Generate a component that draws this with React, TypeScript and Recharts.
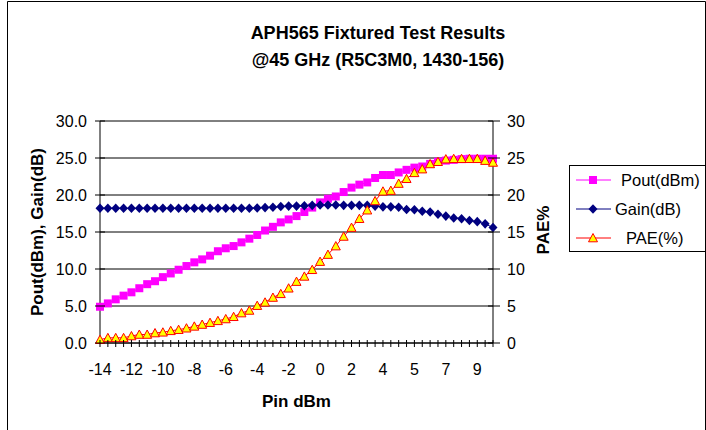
import React from 'react';
import { LineChart, Line, XAxis, YAxis, CartesianGrid } from 'recharts';

// Pin (dBm) categories — only every 4th is labelled on the axis
const pinDbm = [
  -14, -13.5, -13, -12.5, -12, -11.5, -11, -10.5, -10, -9.5,
  -9, -8.5, -8, -7.5, -7, -6.5, -6, -5.5, -5, -4.5,
  -4, -3.5, -3, -2.5, -2, -1.5, -1, -0.5, 0, 0.45,
  0.9, 1.35, 1.8, 2.25, 2.7, 3.15, 3.6, 4.05, 4.5, 4.95,
  5.4, 5.85, 6.3, 6.75, 7.2, 7.65, 8.1, 8.55, 9.0, 9.45, 9.9,
];

const poutDbm = [
  4.9, 5.35, 5.9, 6.4, 6.85, 7.4, 7.95, 8.35, 8.9, 9.4,
  9.9, 10.4, 10.9, 11.3, 11.8, 12.4, 12.8, 13.1, 13.6, 14.1,
  14.6, 15.2, 15.7, 16.3, 16.7, 17.15, 17.7, 18.3, 19.0, 19.5,
  19.8, 20.4, 21.0, 21.4, 21.7, 22.3, 22.7, 22.7, 23.05, 23.4,
  23.7, 23.85, 24.2, 24.5, 24.65, 24.75, 24.85, 24.9, 24.9, 24.9, 24.9,
];

const gainDb = [
  18.2, 18.2, 18.2, 18.2, 18.2, 18.2, 18.2, 18.2, 18.2, 18.2,
  18.2, 18.2, 18.2, 18.2, 18.2, 18.2, 18.2, 18.2, 18.2, 18.2,
  18.25, 18.3, 18.35, 18.45, 18.5, 18.5, 18.55, 18.6, 18.65, 18.65,
  18.65, 18.6, 18.6, 18.6, 18.6, 18.5, 18.4, 18.4, 18.35, 18.05,
  18.0, 17.8, 17.7, 17.4, 17.15, 16.9, 16.8, 16.55, 16.4, 16.1, 15.6,
];

const paePct = [
  0.45, 0.7, 0.7, 0.7, 0.95, 1.15, 1.15, 1.35, 1.45, 1.65,
  1.8, 2.0, 2.25, 2.5, 2.75, 3.0, 3.25, 3.55, 4.05, 4.4,
  5.05, 5.5, 6.15, 6.65, 7.4, 8.3, 9.0, 9.9, 11.0, 11.95,
  13.1, 14.4, 15.6, 16.8, 17.95, 19.2, 20.5, 20.6, 21.55, 22.2,
  23.0, 23.5, 24.2, 24.5, 24.85, 24.9, 24.9, 24.9, 24.9, 24.65, 24.4,
];

const leftTicks = [0, 5, 10, 15, 20, 25, 30];
const rightTicks = [0, 5, 10, 15, 20, 25, 30];
const xLabelEvery = 4;

const titleLines = ['APH565 Fixtured Test Results', '@45 GHz (R5C3M0, 1430-156)'];
const seriesNames = ['Pout(dBm)', 'Gain(dB)', 'PAE(%)'];

const data = pinDbm.map((pin, i) => ({
  pin,
  pout: poutDbm[i],
  gain: gainDb[i],
  pae: paePct[i],
}));

const FONT = '"Liberation Sans", Arial, Helvetica, sans-serif';
const POUT_COLOR = '#FF00FF';
const GAIN_COLOR = '#000080';
const PAE_COLOR = '#FF0000';
const PAE_FILL = '#FFFF00';

const squareShape = (cx: number, cy: number, k?: string) => (
  <rect key={k} x={cx - 4} y={cy - 4} width={8} height={8} fill={POUT_COLOR} />
);
const diamondShape = (cx: number, cy: number, k?: string) => (
  <polygon
    key={k}
    points={`${cx},${cy - 4.8} ${cx + 4.5},${cy} ${cx},${cy + 4.8} ${cx - 4.5},${cy}`}
    fill={GAIN_COLOR}
  />
);
const triangleShape = (cx: number, cy: number, k?: string) => (
  <polygon
    key={k}
    points={`${cx},${cy - 4.5} ${cx + 4.5},${cy + 3.8} ${cx - 4.5},${cy + 3.8}`}
    fill={PAE_FILL}
    stroke={PAE_COLOR}
    strokeWidth={1}
  />
);

const SquareDot = (p: any) =>
  p.cx == null || p.cy == null ? <g key={`sq-${p.index}`} /> : squareShape(p.cx, p.cy, `sq-${p.index}`);
const DiamondDot = (p: any) =>
  p.cx == null || p.cy == null ? <g key={`dm-${p.index}`} /> : diamondShape(p.cx, p.cy, `dm-${p.index}`);
const TriangleDot = (p: any) =>
  p.cx == null || p.cy == null ? <g key={`tr-${p.index}`} /> : triangleShape(p.cx, p.cy, `tr-${p.index}`);

const XTick = (props: any) => {
  const { x, y, payload, index } = props;
  const i = typeof index === 'number' ? index : payload.index;
  const show = i % xLabelEvery === 0;
  return (
    <g>
      <line x1={x} x2={x} y1={y - 3} y2={y + 4} stroke="#000" strokeWidth={1} />
      {show && (
        <text x={x} y={y + 32} textAnchor="middle" fontSize={16} fill="#000" fontFamily={FONT}>
          {Math.round(Number(payload.value))}
        </text>
      )}
    </g>
  );
};

const LeftYTick = (props: any) => {
  const { x, y, payload } = props;
  return (
    <g>
      <line x1={x - 5} x2={x + 5} y1={y} y2={y} stroke="#000" strokeWidth={1} />
      <text x={x - 13} y={y} dy="0.36em" textAnchor="end" fontSize={16} fill="#000" fontFamily={FONT}>
        {Number(payload.value).toFixed(1)}
      </text>
    </g>
  );
};

const RightYTick = (props: any) => {
  const { x, y, payload } = props;
  return (
    <g>
      <line x1={x - 5} x2={x + 7} y1={y} y2={y} stroke="#000" strokeWidth={1} />
      <text x={x + 14} y={y} dy="0.36em" textAnchor="start" fontSize={16} fill="#000" fontFamily={FONT}>
        {Number(payload.value).toFixed(0)}
      </text>
    </g>
  );
};

const legendRows = [
  { name: seriesNames[0], color: POUT_COLOR, shape: squareShape, textX: 621 },
  { name: seriesNames[1], color: GAIN_COLOR, shape: diamondShape, textX: 615 },
  { name: seriesNames[2], color: PAE_COLOR, shape: triangleShape, textX: 626 },
];

export default function App() {
  return (
    <div
      style={{
        position: 'absolute',
        left: 0,
        top: 0,
        width: 706,
        height: 430,
        background: '#fff',
        overflow: 'hidden',
        fontFamily: FONT,
      }}
    >
      <LineChart
        width={706}
        height={430}
        data={data}
        margin={{ top: 121, right: 0, bottom: 0, left: 0 }}
        style={{ fontFamily: FONT }}
      >
        <CartesianGrid
          yAxisId="left"
          vertical={false}
          stroke="#000"
          strokeWidth={1}
          horizontalValues={leftTicks}
        />
        <XAxis
          dataKey="pin"
          type="category"
          height={87}
          interval={0}
          tickSize={0}
          tickMargin={0}
          tickLine={false}
          axisLine={{ stroke: '#000', strokeWidth: 1 }}
          tick={<XTick />}
          label={() => (
            <text x={296.5} y={407} textAnchor="middle" fontSize={17} fontWeight="bold" fill="#000" fontFamily={FONT}>
              Pin dBm
            </text>
          )}
        />
        <YAxis
          yAxisId="left"
          orientation="left"
          width={100}
          domain={[0, 30]}
          ticks={leftTicks}
          interval={0}
          tickSize={0}
          tickMargin={0}
          tickLine={false}
          axisLine={{ stroke: '#000', strokeWidth: 1 }}
          tick={<LeftYTick />}
          label={() => (
            <text
              transform="translate(43,232) rotate(-90)"
              textAnchor="middle"
              fontSize={17}
              fontWeight="bold"
              fill="#000"
              fontFamily={FONT}
            >
              Pout(dBm), Gain(dB)
            </text>
          )}
        />
        <YAxis
          yAxisId="right"
          orientation="right"
          width={213}
          domain={[0, 30]}
          ticks={rightTicks}
          interval={0}
          tickSize={0}
          tickMargin={0}
          tickLine={false}
          axisLine={{ stroke: '#000', strokeWidth: 1 }}
          tick={<RightYTick />}
          label={() => (
            <text
              transform="translate(549,230) rotate(-90)"
              textAnchor="middle"
              fontSize={17}
              fontWeight="bold"
              fill="#000"
              fontFamily={FONT}
            >
              PAE%
            </text>
          )}
        />
        <Line
          yAxisId="left"
          dataKey="pout"
          name={seriesNames[0]}
          stroke={POUT_COLOR}
          strokeWidth={1}
          dot={SquareDot}
          activeDot={false}
          isAnimationActive={false}
        />
        <Line
          yAxisId="left"
          dataKey="gain"
          name={seriesNames[1]}
          stroke={GAIN_COLOR}
          strokeWidth={1}
          dot={DiamondDot}
          activeDot={false}
          isAnimationActive={false}
        />
        <Line
          yAxisId="right"
          dataKey="pae"
          name={seriesNames[2]}
          stroke={PAE_COLOR}
          strokeWidth={1}
          dot={TriangleDot}
          activeDot={false}
          isAnimationActive={false}
        />
      </LineChart>
      <svg
        width={706}
        height={430}
        style={{ position: 'absolute', left: 0, top: 0, pointerEvents: 'none' }}
      >
        <path d="M7.5,440 L7.5,1.5 L705.5,1.5 L705.5,440" fill="none" stroke="#000" strokeWidth={1} />
        {titleLines.map((t, i) => (
          <text
            key={t}
            x={378}
            y={39 + i * 27}
            textAnchor="middle"
            fontSize={18}
            fontWeight="bold"
            fill="#000"
            fontFamily={FONT}
          >
            {t}
          </text>
        ))}
        <rect x={569.5} y={165.5} width={136} height={86} fill="#fff" stroke="#000" strokeWidth={1} />
        {legendRows.map((r, i) => {
          const cy = 180 + i * 29;
          return (
            <g key={r.name}>
              <line x1={576} x2={611} y1={cy} y2={cy} stroke={r.color} strokeWidth={1} />
              {r.shape(593, cy)}
              <text x={r.textX} y={cy} dy="0.36em" fontSize={16.5} fill="#000" fontFamily={FONT}>
                {r.name}
              </text>
            </g>
          );
        })}
      </svg>
    </div>
  );
}
